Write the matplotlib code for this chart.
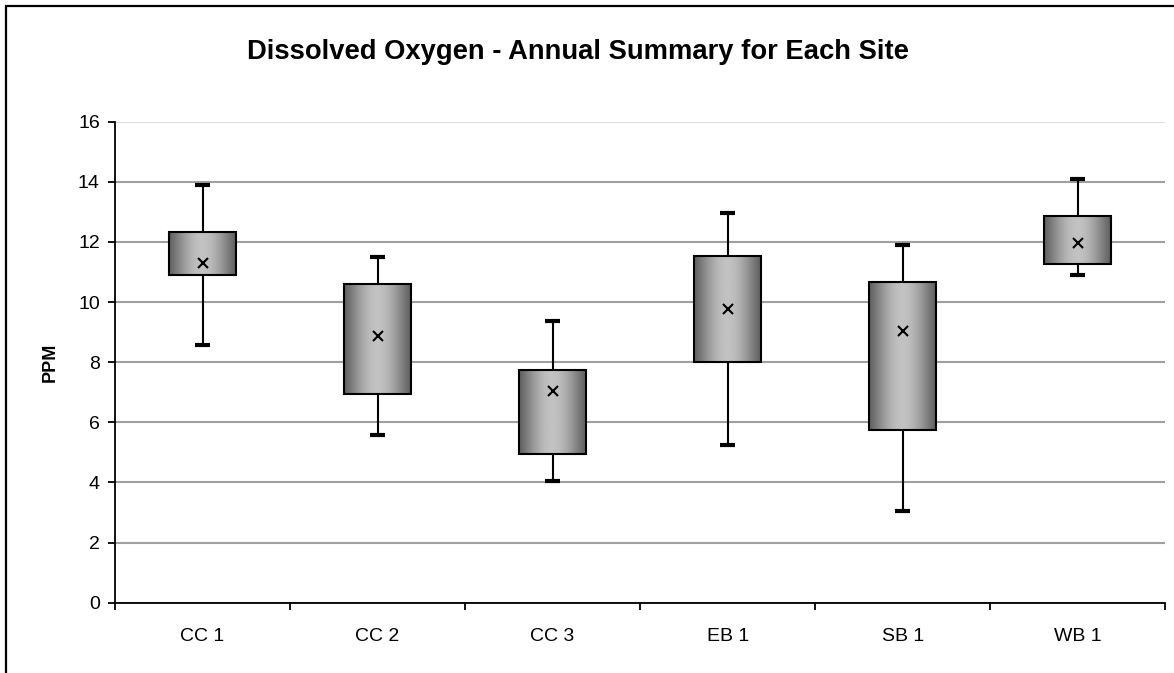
import numpy as np
import matplotlib.pyplot as plt
from matplotlib.patches import Rectangle

plt.rcParams['font.family'] = ['Liberation Sans', 'DejaVu Sans']

# Annual summary values (PPM)
sites = ["CC 1", "CC 2", "CC 3", "EB 1", "SB 1", "WB 1"]
lows = [8.57, 5.58, 4.04, 5.24, 3.05, 10.89]
q1 = [10.91, 6.94, 4.94, 7.99, 5.74, 11.25]
means = [11.29, 8.88, 7.05, 9.76, 9.04, 11.95]
q3 = [12.33, 10.60, 7.74, 11.54, 10.66, 12.86]
highs = [13.89, 11.50, 9.36, 12.95, 11.90, 14.09]

fig = plt.figure(figsize=(11.74, 6.73), dpi=100)
ax = fig.add_axes([0.098, 0.1045, 0.8945, 0.7147])

x = np.arange(1, len(sites) + 1)
box_w = 0.38

# horizontal gradient: dark at the sides, light in the middle
t = np.linspace(-1, 1, 200)
shade = 0.38 + 0.38 * np.cos(t * np.pi / 2) ** 1.2
grad = shade[np.newaxis, :]

for xi, lo, a, m, b, hi in zip(x, lows, q1, means, q3, highs):
    ax.vlines(xi, lo, a, color='black', lw=1.5, zorder=3)
    ax.vlines(xi, b, hi, color='black', lw=1.5, zorder=3)
    ax.hlines([lo, hi], xi - 0.042, xi + 0.042, color='black', lw=3, zorder=3)
    ax.imshow(grad, cmap='gray', vmin=0, vmax=1, aspect='auto',
              extent=[xi - box_w / 2, xi + box_w / 2, a, b], zorder=4)
    ax.add_patch(Rectangle((xi - box_w / 2, a), box_w, b - a, fill=False,
                           edgecolor='black', lw=1.5, zorder=5))
    ax.plot(xi, m, marker='x', color='black', ms=7, mew=1.5, zorder=6)

ax.set_xlim(0.5, len(sites) + 0.5)
ax.set_ylim(0, 16)
ax.set_yticks(np.arange(0, 17, 2))
ax.set_xticks(x)
ax.set_xticklabels(sites, fontsize=14)
ax.set_xticks(np.arange(0.5, len(sites) + 1), minor=True)
ax.tick_params(axis='x', which='major', length=0, pad=18)
ax.tick_params(axis='x', which='minor', length=5, width=1.3, direction='out')
ax.tick_params(axis='y', labelsize=14, length=5, width=1.3, pad=6)

ax.grid(axis='y', color='#a0a0a0', lw=1.5, zorder=0)
ax.get_ygridlines()[-1].set_color('#dddddd')
ax.set_axisbelow(True)
for s in ['top', 'right']:
    ax.spines[s].set_visible(False)
for s in ['left', 'bottom']:
    ax.spines[s].set_linewidth(1.3)

ax.set_ylabel("PPM", fontsize=13, fontweight='bold', labelpad=14)
fig.text(0.492, 0.922, "Dissolved Oxygen - Annual Summary for Each Site",
         fontsize=19.7, fontweight='bold', ha='center', va='center')

# outer chart frame
fig.patches.append(Rectangle((6 / 1174, -0.1), 1.2, 1.1 - 6 / 673,
                             transform=fig.transFigure, fill=False,
                             edgecolor='black', lw=1.6))

fig.savefig("out.png", dpi=100)
